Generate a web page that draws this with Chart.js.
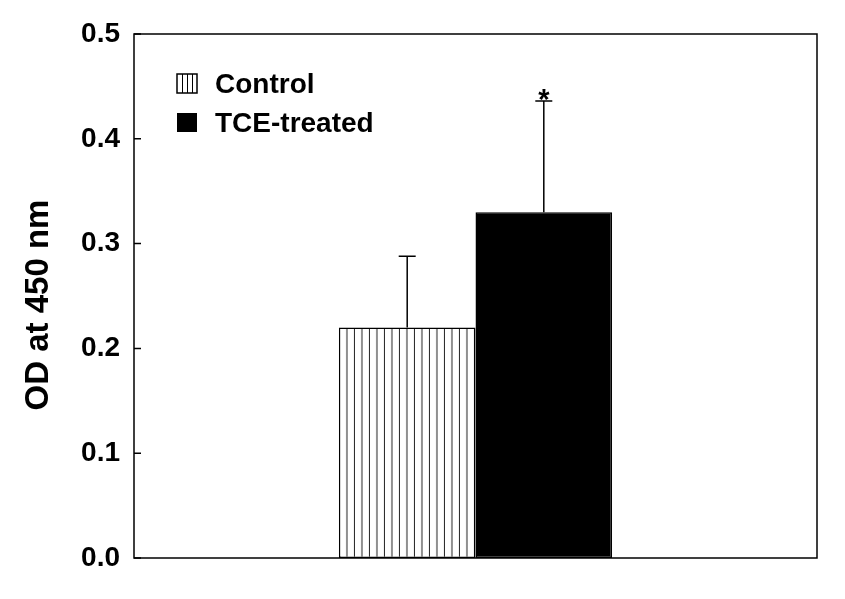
<!DOCTYPE html>
<html>
<head>
<meta charset="utf-8">
<script src="https://cdn.jsdelivr.net/npm/chart.js@4/dist/chart.umd.min.js"></script>
<style>
  body { margin: 0; background: #fff; }
</style>
</head>
<body>
<canvas id="odChart" width="845" height="599"></canvas>
<script>
// datos del grafico
const categorias = [''];
const nombresSeries = ['Control', 'TCE-treated'];
const valoresControl = [0.22];
const valoresTCE = [0.33];
const erroresControl = [0.068];
const erroresTCE = [0.106];
const marcasSignificancia = ['', '*'];
const ticksY = [0.0, 0.1, 0.2, 0.3, 0.4, 0.5];
const tituloY = 'OD at 450 nm';

const fuente = "'Liberation Sans', Arial, sans-serif";

// patron de rayas verticales para el control
function crearRayado() {
    const c = document.createElement('canvas');
    c.width = 15;
    c.height = 10;
    const g = c.getContext('2d');
    g.fillStyle = '#fff';
    g.fillRect(0, 0, 15, 10);
    g.strokeStyle = '#222';
    g.lineWidth = 1;
    g.beginPath();
    g.moveTo(0.5, 0); g.lineTo(0.5, 10);
    g.moveTo(8, 0); g.lineTo(8, 10);
    g.stroke();
    return document.createElement('canvas').getContext('2d').createPattern(c, 'repeat');
}
const rayado = crearRayado();

// alinea el patron con el borde izquierdo de la barra
const alinearRayado = {
    id: 'alinearRayado',
    beforeDatasetsDraw(chart) {
        const bar = chart.getDatasetMeta(0).data[0];
        const izq = bar.x - bar.width / 2;
        if (rayado.setTransform) rayado.setTransform(new DOMMatrix().translate(izq, 0));
    }
};

// barras de error (solo la mitad superior) y asterisco
const barrasError = {
    id: 'barrasError',
    afterDatasetsDraw(chart) {
        const ctx = chart.ctx;
        const y = chart.scales.y;
        const errores = [erroresControl, erroresTCE];
        ctx.save();
        ctx.strokeStyle = '#000';
        ctx.lineWidth = 1.5;
        chart.data.datasets.forEach((ds, i) => {
            chart.getDatasetMeta(i).data.forEach((bar, j) => {
                const v = ds.data[j];
                const yTop = y.getPixelForValue(v + errores[i][j]);
                const yBar = y.getPixelForValue(v);
                ctx.beginPath();
                ctx.moveTo(bar.x, yBar);
                ctx.lineTo(bar.x, yTop);
                ctx.moveTo(bar.x - 8.5, yTop);
                ctx.lineTo(bar.x + 8.5, yTop);
                ctx.stroke();
                if (marcasSignificancia[i]) {
                    ctx.fillStyle = '#000';
                    ctx.font = 'bold 29px ' + fuente;
                    ctx.textAlign = 'center';
                    ctx.textBaseline = 'alphabetic';
                    ctx.fillText(marcasSignificancia[i], bar.x, yTop + 8);
                }
            });
        });
        ctx.restore();
    }
};

// marco, marcas hacia dentro, titulo del eje y leyenda
const marcoYLeyenda = {
    id: 'marcoYLeyenda',
    afterDraw(chart) {
        const ctx = chart.ctx;
        const a = chart.chartArea;
        const y = chart.scales.y;
        ctx.save();
        ctx.strokeStyle = '#000';
        ctx.lineWidth = 1.5;
        ctx.strokeRect(a.left, a.top, a.right - a.left, a.bottom - a.top);
        ctx.beginPath();
        ticksY.forEach(t => {
            const py = y.getPixelForValue(t);
            ctx.moveTo(a.left, py);
            ctx.lineTo(a.left + 7, py);
        });
        ctx.stroke();

        // titulo del eje y
        ctx.save();
        ctx.translate(a.left - 95, (a.top + a.bottom) / 2 + 9);
        ctx.rotate(-Math.PI / 2);
        ctx.fillStyle = '#000';
        ctx.font = 'bold 33px ' + fuente;
        ctx.textAlign = 'center';
        ctx.textBaseline = 'middle';
        ctx.fillText(tituloY, 0, 0);
        ctx.restore();

        // leyenda
        const x0 = a.left + 43;
        const filas = [a.top + 40, a.top + 79];
        chart.data.datasets.forEach((ds, i) => {
            const top = filas[i];
            if (i === 0) {
                ctx.fillStyle = '#fff';
                ctx.fillRect(x0, top, 20, 19);
                ctx.lineWidth = 1;
                ctx.beginPath();
                [5, 10, 15].forEach(d => { ctx.moveTo(x0 + d + 0.5, top); ctx.lineTo(x0 + d + 0.5, top + 19); });
                ctx.stroke();
                ctx.lineWidth = 1.5;
                ctx.strokeRect(x0, top, 20, 19);
            } else {
                ctx.fillStyle = ds.backgroundColor;
                ctx.fillRect(x0, top, 20, 19);
            }
            ctx.fillStyle = '#000';
            ctx.font = 'bold 28px ' + fuente;
            ctx.textAlign = 'left';
            ctx.textBaseline = 'alphabetic';
            ctx.fillText(ds.label, x0 + 38, top + 19);
        });
        ctx.restore();
    }
};

new Chart(document.getElementById('odChart'), {
    type: 'bar',
    data: {
        labels: categorias,
        datasets: [
            {
                label: nombresSeries[0],
                data: valoresControl,
                backgroundColor: rayado,
                borderColor: '#000',
                borderWidth: 1.5,
                borderSkipped: false
            },
            {
                label: nombresSeries[1],
                data: valoresTCE,
                backgroundColor: '#000',
                borderColor: '#000',
                borderWidth: 1.5,
                borderSkipped: false
            }
        ]
    },
    options: {
        responsive: false,
        animation: false,
        layout: { padding: { top: 34, right: 28, left: 0, bottom: 0 } },
        datasets: { bar: { categoryPercentage: 0.4, barPercentage: 1.0 } },
        plugins: {
            legend: { display: false },
            tooltip: { enabled: false }
        },
        scales: {
            x: {
                grid: { display: false },
                border: { display: false },
                ticks: { display: false },
                afterFit: s => { s.height = 41; }
            },
            y: {
                min: 0,
                max: 0.5,
                afterBuildTicks: s => { s.ticks = ticksY.map(v => ({ value: v })); },
                grid: { display: false, drawTicks: false },
                border: { display: false },
                ticks: {
                    color: '#000',
                    padding: 14,
                    font: { family: fuente, size: 28, weight: 'bold' },
                    callback: v => Number(v).toFixed(1)
                },
                afterFit: s => { s.width = 134; }
            }
        }
    },
    plugins: [alinearRayado, barrasError, marcoYLeyenda]
});
</script>
</body>
</html>
